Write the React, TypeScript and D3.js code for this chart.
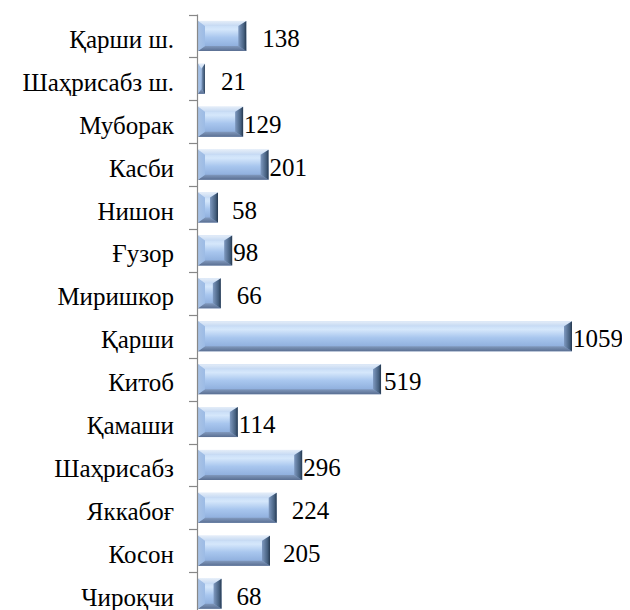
import React from "react";
import * as d3 from "d3";

const districts: string[] = [
  "Қарши ш.",
  "Шаҳрисабз ш.",
  "Муборак",
  "Касби",
  "Нишон",
  "Ғузор",
  "Миришкор",
  "Қарши",
  "Китоб",
  "Қамаши",
  "Шаҳрисабз",
  "Яккабоғ",
  "Косон",
  "Чироқчи",
];

const counts: number[] = [138, 21, 129, 201, 58, 98, 66, 1059, 519, 114, 296, 224, 205, 68];

// extra gap between bar end and its value label (as placed in the source)
const labelNudge: number[] = [15, 15, 0, 0, 13, 0, 15, 0, 2, 0, 0, 14, 12, 14];

const settings = {
  width: 630,
  height: 610,
  axisX: 197.5,
  top: 14.5,
  band: 42.9,
};

const FONT = "Tinos";

function Bar({ x, y, w, h }: { x: number; y: number; w: number; h: number }) {
  const bl = Math.min(7, w / 2);
  const br = Math.min(8, w / 2);
  const bt = 5;
  const pts = (a: number[][]) => a.map((p) => p.join(",")).join(" ");
  return (
    <g>
      <rect x={x} y={y} width={w} height={h} fill="url(#face)" />
      <polygon
        points={pts([[x, y], [x + w, y], [x + w - br, y + bt], [x + bl, y + bt]])}
        fill="url(#topB)"
      />
      <polygon
        points={pts([[x, y + h], [x + w, y + h], [x + w - br, y + h - bt], [x + bl, y + h - bt]])}
        fill="url(#botB)"
      />
      <polygon
        points={pts([[x, y], [x + bl, y + bt], [x + bl, y + h - bt], [x, y + h]])}
        fill="url(#leftB)"
      />
      <polygon
        points={pts([[x + w, y], [x + w - br, y + bt], [x + w - br, y + h - bt], [x + w, y + h]])}
        fill="url(#rightB)"
      />
    </g>
  );
}

export default function App() {
  const x = d3.scaleLinear().domain([0, 1059]).range([settings.axisX, 572]);
  const y = d3
    .scaleBand()
    .domain(districts)
    .range([settings.top, settings.top + settings.band * districts.length])
    .paddingInner(0.3)
    .paddingOuter(0.15);
  const step = y.step();

  return (
    <svg width={settings.width} height={settings.height} style={{ display: "block", marginLeft: -8, marginTop: -8 }}>
      <defs>
        <linearGradient id="face" x1="0" y1="0" x2="0" y2="1">
          <stop offset="0" stopColor="#bcd3f2" />
          <stop offset="0.28" stopColor="#d5e7fb" />
          <stop offset="0.55" stopColor="#a8c6ee" />
          <stop offset="0.85" stopColor="#8fafdd" />
          <stop offset="1" stopColor="#7b97c3" />
        </linearGradient>
        <linearGradient id="topB" x1="0" y1="0" x2="0" y2="1">
          <stop offset="0" stopColor="#e4edf8" />
          <stop offset="1" stopColor="#c5d9f3" />
        </linearGradient>
        <linearGradient id="botB" x1="0" y1="0" x2="0" y2="1">
          <stop offset="0" stopColor="#8199bd" />
          <stop offset="1" stopColor="#5a6f92" />
        </linearGradient>
        <linearGradient id="leftB" x1="0" y1="0" x2="1" y2="0">
          <stop offset="0" stopColor="#a9c3e6" />
          <stop offset="1" stopColor="#9cbbe5" />
        </linearGradient>
        <linearGradient id="rightB" x1="0" y1="0" x2="1" y2="0">
          <stop offset="0" stopColor="#7e99c0" />
          <stop offset="0.7" stopColor="#46607f" />
          <stop offset="1" stopColor="#25384f" />
        </linearGradient>
      </defs>

      {districts.map((d, i) => {
        const cy = (y(d) ?? 0) + y.bandwidth() / 2;
        return (
          <text key={d} x={174} y={cy + 12} textAnchor="end" fontFamily={FONT} fontSize={25}>
            {d}
          </text>
        );
      })}
      {counts.map((v, i) => {
        const cy = (y(districts[i]) ?? 0) + y.bandwidth() / 2;
        return (
          <text key={i} x={x(v) + 1 + labelNudge[i]} y={cy + 11} fontFamily={FONT} fontSize={25}>
            {v}
          </text>
        );
      })}

      {districts.map((d, i) => {
        const y0 = y(d) ?? 0;
        const x1 = x(counts[i]);
        return <Bar key={d} x={settings.axisX + 0.5} y={y0} w={x1 - settings.axisX - 0.5} h={y.bandwidth()} />;
      })}

      <g stroke="#888" strokeWidth={1.2} fill="none">
        <line x1={settings.axisX} x2={settings.axisX} y1={settings.top} y2={settings.top + step * districts.length} />
        {d3.range(districts.length + 1).map((k) => {
          const ty = Math.round(settings.top + k * step) + 0.5;
          return <line key={k} x1={189} x2={settings.axisX} y1={ty} y2={ty} />;
        })}
      </g>
    </svg>
  );
}
